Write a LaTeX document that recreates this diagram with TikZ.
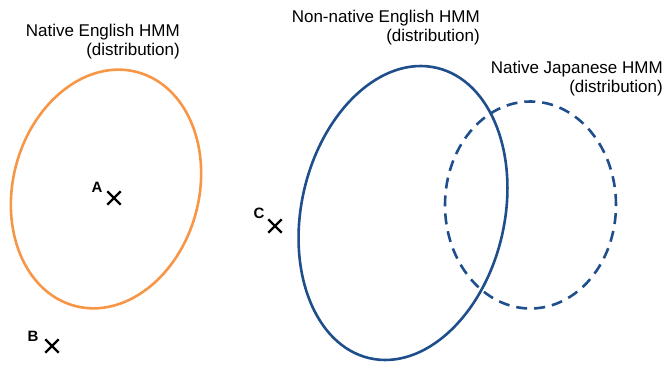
\documentclass[tikz,border=0pt]{standalone}
\usepackage{fontspec}
\setmainfont{Liberation Sans}
\usetikzlibrary{shapes.misc}
\definecolor{hmmorange}{HTML}{F79646}
\definecolor{hmmblue}{HTML}{1F4E8C}
\tikzset{
  distline/.style={line width=2.6pt},
  caption/.style={align=right, anchor=base east, inner sep=0pt,
    font=\fontsize{17}{19}\selectfont},
  sample/.style={draw, cross out, line width=2.4pt, minimum size=11pt,
    inner sep=0pt},
  samplelabel/.style={inner sep=0pt, font=\bfseries\fontsize{15}{15}\selectfont}
}
\begin{document}
\begin{tikzpicture}[x=1pt,y=1pt]
  \useasboundingbox (0,0) rectangle (665,365);

  % distributions
  \draw[distline, hmmorange] (106,176) ellipse[x radius=93, y radius=121, rotate=-15];
  \draw[distline, hmmblue] (403,152) ellipse[x radius=101.5, y radius=149, rotate=-13];
  \draw[distline, hmmblue, dash pattern=on 11pt off 7pt] (530.5,160) ellipse[x radius=85.5, y radius=103.5];

  % captions (anchored at the baseline of the second line)
  \node[caption] (capNE) at (180,309) {Native English HMM\\(distribution)};
  \node[caption] (capNN) at (480,323) {Non-native English HMM\\(distribution)};
  \node[caption] (capNJ) at (663,272) {Native Japanese HMM\\(distribution)};

  % samples
  \node[sample] (A) at (114,167) {};
  \node[sample] (B) at (52,19) {};
  \node[sample] (C) at (275,139) {};
  \node[samplelabel] (labA) at (97,178) {A};
  \node[samplelabel] (labB) at (33,29) {B};
  \node[samplelabel] (labC) at (259,152) {C};
\end{tikzpicture}
\end{document}
